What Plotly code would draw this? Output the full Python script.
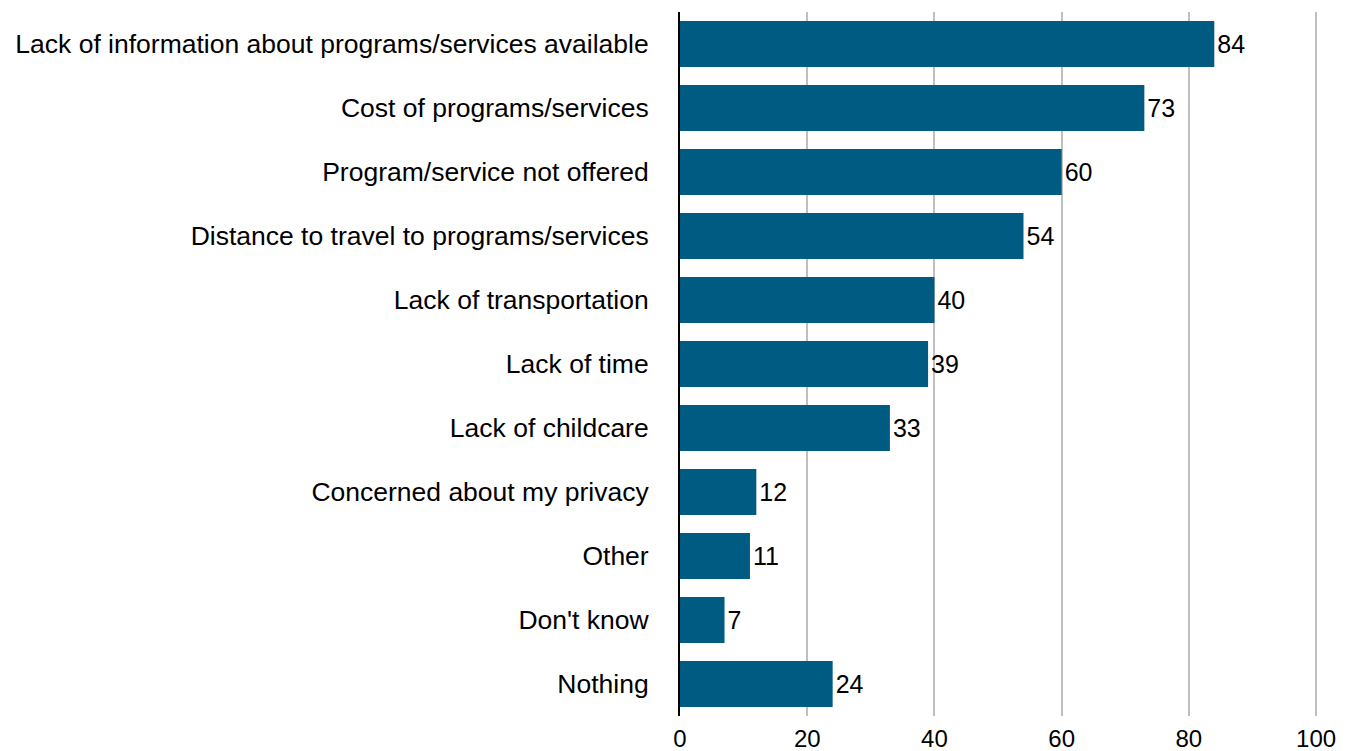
import plotly.graph_objects as go

categories = [
    "Lack of information about programs/services available",
    "Cost of programs/services",
    "Program/service not offered",
    "Distance to travel to programs/services",
    "Lack of transportation",
    "Lack of time",
    "Lack of childcare",
    "Concerned about my privacy",
    "Other",
    "Don't know",
    "Nothing",
]
values = [84, 73, 60, 54, 40, 39, 33, 12, 11, 7, 24]
x_ticks = [0, 20, 40, 60, 80, 100]

FONT = "Liberation Sans, Arial, sans-serif"

fig = go.Figure(
    go.Bar(
        x=values,
        y=categories,
        orientation="h",
        marker=dict(color="#005B82", line=dict(width=0)),
        text=[str(v) for v in values],
        textposition="outside",
        textfont=dict(family=FONT, size=25, color="#000000"),
        cliponaxis=False,
    )
)

fig.update_layout(
    width=1354,
    height=751,
    margin=dict(l=680, r=36, t=12, b=35, autoexpand=False),
    paper_bgcolor="white",
    plot_bgcolor="white",
    bargap=0.28,
    showlegend=False,
    font=dict(family=FONT, size=24, color="#000000"),
)

fig.update_xaxes(
    range=[0, 100.3],
    tickvals=x_ticks,
    ticktext=[str(t) for t in x_ticks],
    showgrid=True,
    gridcolor="#BFBFBF",
    gridwidth=2,
    zeroline=False,
    showline=False,
    ticks="",
    automargin=False,
    ticklabelstandoff=6,
    tickfont=dict(family=FONT, size=24, color="#000000"),
    fixedrange=True,
)

fig.update_yaxes(
    categoryorder="array",
    categoryarray=categories,
    autorange="reversed",
    showgrid=False,
    showline=True,
    linecolor="#000000",
    linewidth=2,
    ticks="",
    automargin=False,
    ticklabelstandoff=24,
    tickfont=dict(family=FONT, size=26.5, color="#000000"),
    fixedrange=True,
)

fig.write_html(
    "out.html",
    config={"displayModeBar": False},
    post_script="document.body.style.margin='0';document.body.style.overflow='hidden';",
)
